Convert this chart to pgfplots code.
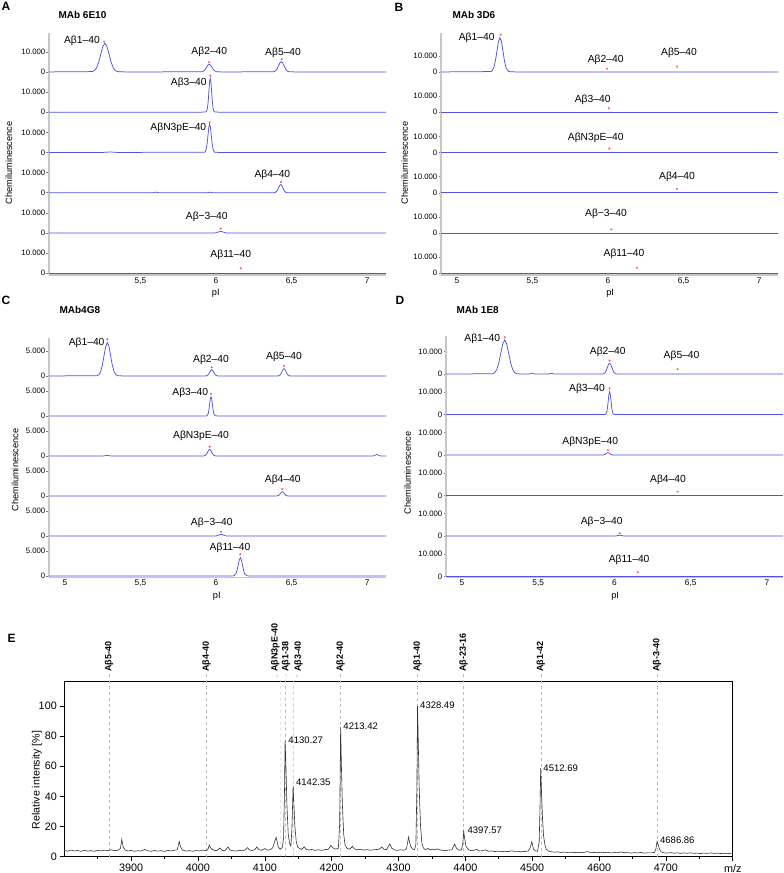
\documentclass[border=0pt]{standalone}
\usepackage{fontspec}
\setmainfont{Liberation Sans}
\usepackage{pgfplots}
\pgfplotsset{compat=1.18}
\definecolor{traceblue}{RGB}{80,80,235}
\definecolor{markred}{RGB}{255,95,95}
\definecolor{axgray}{RGB}{200,200,200}
\pgfplotsset{
  cie/.style={
    anchor=south west, scale only axis, clip=false,
    scaled y ticks=false, scaled x ticks=false,
    axis x line*=bottom, axis y line*=left,
    axis line style={draw=axgray, line width=1.4pt, -},
    tick align=outside, major tick length=2.5pt,
    ytick style={draw=gray, line width=0.5pt},
    xtick style={draw=none},
    yticklabel style={font=\fontsize{7.8}{9}\selectfont, inner sep=1pt},
    xticklabel style={font=\fontsize{8.3}{9}\selectfont, inner sep=1pt, yshift=1pt},
    label style={font=\fontsize{9.2}{10}\selectfont},
    xlabel={pI}, ylabel={Chemiluminescence},
  },
  trace/.style={draw=traceblue, line width=0.75pt, mark=none},
  pmark/.style={color=markred, only marks, mark=*, mark size=0.85pt, mark options={draw=markred, fill=markred}},
}
\tikzset{
  lab/.style={font=\fontsize{10.3}{12}\selectfont, inner sep=0pt},
  spl/.style={rotate=90, anchor=west, inner sep=0.5pt, font=\bfseries\fontsize{9}{10}\selectfont},
  pkl/.style={anchor=west, inner sep=0pt, font=\fontsize{9.5}{11}\selectfont},
}
\begin{document}
\begin{tikzpicture}
\useasboundingbox (0,0) rectangle (784pt,873pt);
% panel letters and titles
\node[font=\bfseries\fontsize{12}{14}\selectfont] at (6pt,867pt) {A};
\node[anchor=west, font=\bfseries\fontsize{10}{12}\selectfont] at (55pt,858pt) {MAb 6E10};
\node[font=\bfseries\fontsize{12}{14}\selectfont] at (399pt,866pt) {B};
\node[anchor=west, font=\bfseries\fontsize{10}{12}\selectfont] at (449pt,858pt) {MAb 3D6};
\node[font=\bfseries\fontsize{12}{14}\selectfont] at (6pt,573pt) {C};
\node[anchor=west, font=\bfseries\fontsize{10}{12}\selectfont] at (56pt,563pt) {MAb4G8};
\node[font=\bfseries\fontsize{12}{14}\selectfont] at (400pt,573pt) {D};
\node[anchor=west, font=\bfseries\fontsize{10}{12}\selectfont] at (453pt,563pt) {MAb 1E8};
\node[font=\bfseries\fontsize{12}{14}\selectfont] at (11.7pt,235pt) {E};

% ---------------- Panel A ----------------
\begin{axis}[cie, at={(49pt,598pt)}, width=337pt, height=242pt,
  xmin=4.895, xmax=7.125, ymin=-850, ymax=119330,
  ytick={0,10000,20000,30000,40000,50000,60000,70000,80000,90000,100000,110000},
  yticklabels={0,10.000,0,10.000,0,10.000,0,10.000,0,10.000,0,10.000},
  xtick={5.5,6,6.5,7}, xticklabels={{5,5},6,{6,5},7},
  ylabel style={at={(axis description cs:-0.119,0.463)}, anchor=center},
  xlabel style={at={(axis description cs:0.495,-0.075)}, anchor=center}]
\addplot[trace] coordinates {(4.895,100000) (5.181,100158) (5.195,100626) (5.209,101928) (5.223,104627) (5.237,108643) (5.251,112576) (5.265,114250) (5.279,112576) (5.293,108643) (5.307,104627) (5.321,101928) (5.335,100626) (5.349,100158) (5.40,100000)
(5.901,100042) (5.910,100167) (5.919,100514) (5.928,101234) (5.937,102305) (5.946,103354) (5.955,103800) (5.964,103354) (5.973,102305) (5.982,101234) (5.991,100514) (6.000,100167) (6.009,100042) (6.05,100000)
(6.378,100057) (6.387,100224) (6.396,100690) (6.405,101656) (6.414,103093) (6.423,104501) (6.432,105100) (6.441,104501) (6.450,103093) (6.459,101656) (6.468,100690) (6.477,100224) (6.486,100057) (6.53,100000) (7.125,100000)};
\addplot[trace] coordinates {(4.895,80000) (5.90,80000) (5.935,80188) (5.9395,80742) (5.944,82287) (5.9485,85487) (5.953,90250) (5.9575,94914) (5.962,96900) (5.9665,94914) (5.971,90250) (5.9755,85487) (5.980,82287) (5.9845,80742) (5.989,80188) (6.02,80000) (7.125,80000)};
\addplot[trace] coordinates {(4.895,60000) (5.25,60000) (5.30,60250) (5.35,60000) (5.925,60155) (5.9305,60615) (5.936,61894) (5.9415,64546) (5.947,68491) (5.9525,72355) (5.958,74000) (5.9635,72355) (5.969,68491) (5.9745,64546) (5.980,61894) (5.9855,60615) (5.991,60155) (6.02,60000) (7.125,60000)};
\addplot[trace] coordinates {(4.895,40000) (5.58,40000) (5.60,40300) (5.62,40000) (5.94,40000) (5.96,40250) (5.98,40000) (6.386,40046) (6.393,40180) (6.400,40555) (6.407,41331) (6.414,42487) (6.421,43618) (6.428,44100) (6.435,43618) (6.442,42487) (6.449,41331) (6.456,40555) (6.463,40180) (6.470,40046) (6.50,40000) (7.125,40000)};
\addplot[trace] coordinates {(4.895,20000) (5.986,20000) (6.001,20115) (6.016,20516) (6.031,20850) (6.046,20516) (6.061,20115) (6.076,20000) (7.125,20000)};
\addplot[trace] coordinates {(4.895,0) (7.125,0)};
\addplot[pmark] coordinates {(5.26,115050) (5.954,104800) (6.435,106300) (5.962,98200) (5.958,74900) (6.43,45300) (6.031,22200) (6.164,2500)};
\node[lab] at (axis cs:5.113,115400) {Aβ1–40};
\node[lab] at (axis cs:5.956,110100) {Aβ2–40};
\node[lab] at (axis cs:6.444,109300) {Aβ5–40};
\node[lab] at (axis cs:5.82,94400) {Aβ3–40};
\node[lab] at (axis cs:5.751,72200) {AβN3pE–40};
\node[lab] at (axis cs:6.373,48900) {Aβ4–40};
\node[lab] at (axis cs:5.939,27900) {Aβ−3–40};
\node[lab] at (axis cs:6.098,9100) {Aβ11–40};
\end{axis}

% ---------------- Panel B ----------------
\begin{axis}[cie, at={(441pt,598pt)}, width=337pt, height=242pt,
  xmin=4.895, xmax=7.125, ymin=-1050, ymax=149180,
  ytick={0,10000,25000,35000,50000,60000,75000,85000,100000,110000,125000,135000},
  yticklabels={0,10.000,0,10.000,0,10.000,0,10.000,0,10.000,0,10.000},
  xtick={5,5.5,6,6.5,7}, xticklabels={5,{5,5},6,{6,5},7},
  ylabel style={at={(axis description cs:-0.108,0.463)}, anchor=center},
  xlabel style={at={(axis description cs:0.502,-0.076)}, anchor=center}]
\addplot[trace] coordinates {(4.895,125000) (5.225,125236) (5.235,125935) (5.245,127882) (5.255,131916) (5.265,137919) (5.275,143797) (5.285,146300) (5.295,143797) (5.305,137919) (5.315,131916) (5.325,127882) (5.335,125935) (5.345,125236) (5.39,125000) (7.125,125000)};
\addplot[trace] coordinates {(4.895,100000) (7.125,100000)};
\addplot[trace] coordinates {(4.895,75000) (7.125,75000)};
\addplot[trace] coordinates {(4.895,50000) (7.125,50000)};
\addplot[trace] coordinates {(4.895,25000) (7.125,25000)};
\addplot[trace] coordinates {(4.895,0) (7.125,0)};
\addplot[pmark] coordinates {(5.29,148150) (5.994,127050) (6.457,128300) (6.005,102400) (6.009,77350) (6.457,52350) (6.022,27300) (6.192,3500)};
\node[lab] at (axis cs:5.131,146300) {Aβ1–40};
\node[lab] at (axis cs:5.985,132450) {Aβ2–40};
\node[lab] at (axis cs:6.47,137000) {Aβ5–40};
\node[lab] at (axis cs:5.899,107600) {Aβ3–40};
\node[lab] at (axis cs:5.919,83800) {AβN3pE–40};
\node[lab] at (axis cs:6.457,60000) {Aβ4–40};
\node[lab] at (axis cs:5.987,37200) {Aβ−3–40};
\node[lab] at (axis cs:6.106,12000) {Aβ11–40};
\end{axis}

% ---------------- Panel C ----------------
\begin{axis}[cie, at={(49pt,295.7pt)}, width=337pt, height=239pt,
  xmin=4.895, xmax=7.125, ymin=-260, ymax=47540,
  ytick={0,5000,8000,13000,16000,21000,24000,29000,32000,37000,40000,45000},
  yticklabels={0,5.000,0,5.000,0,5.000,0,5.000,0,5.000,0,5.000},
  xtick={5,5.5,6,6.5,7}, xticklabels={5,{5,5},6,{6,5},7},
  ylabel style={at={(axis description cs:-0.101,0.449)}, anchor=center},
  xlabel style={at={(axis description cs:0.498,-0.078)}, anchor=center}]
\addplot[trace] coordinates {(4.895,40000) (5.215,40074) (5.226,40292) (5.237,40901) (5.248,42162) (5.259,44039) (5.270,45877) (5.281,46660) (5.292,45877) (5.303,44039) (5.314,42162) (5.325,40901) (5.336,40292) (5.347,40074) (5.39,40000)
(5.933,40014) (5.946,40170) (5.9525,40409) (5.959,40764) (5.9655,41112) (5.972,41260) (5.9785,41112) (5.985,40764) (5.9915,40409) (5.998,40170) (6.011,40014) (6.04,40000)
(6.411,40016) (6.424,40198) (6.4305,40474) (6.437,40886) (6.4435,41288) (6.45,41460) (6.4565,41288) (6.463,40886) (6.4695,40474) (6.476,40198) (6.489,40016) (6.52,40000) (7.125,40000)};
\addplot[trace] coordinates {(4.895,32000) (5.93,32000) (5.94,32043) (5.949,32522) (5.9535,33253) (5.958,34341) (5.9625,35406) (5.967,35860) (5.9715,35406) (5.976,34341) (5.9805,33253) (5.985,32522) (5.994,32043) (6.02,32000) (7.125,32000)};
\addplot[trace] coordinates {(4.895,24000) (5.25,24000) (5.28,24100) (5.31,24000) (5.919,24015) (5.932,24181) (5.9385,24435) (5.945,24813) (5.9515,25183) (5.958,25340) (5.9645,25183) (5.971,24813) (5.9775,24435) (5.984,24181) (5.997,24015) (6.03,24000) (7.04,24000) (7.054,24180) (7.064,24300) (7.074,24180) (7.09,24000) (7.125,24000)};
\addplot[trace] coordinates {(4.895,16000) (6.403,16010) (6.415,16116) (6.421,16279) (6.427,16522) (6.433,16759) (6.439,16860) (6.445,16759) (6.451,16522) (6.457,16279) (6.463,16116) (6.475,16010) (6.50,16000) (7.125,16000)};
\addplot[trace] coordinates {(4.895,8000) (5.991,8000) (6.005,8046) (6.019,8206) (6.033,8340) (6.047,8206) (6.061,8046) (6.075,8000) (7.125,8000)};
\addplot[trace] coordinates {(4.895,0) (6.11,0) (6.119,41) (6.133,495) (6.14,1188) (6.147,2220) (6.154,3230) (6.161,3660) (6.168,3230) (6.175,2220) (6.182,1188) (6.189,495) (6.203,41) (6.23,0) (7.125,0)};
\addplot[pmark] coordinates {(5.281,47340) (5.972,41740) (6.45,42000) (5.967,36460) (5.958,25860) (6.439,17400) (6.033,8860) (6.161,4340)};
\node[lab] at (axis cs:5.144,46540) {Aβ1–40};
\node[lab] at (axis cs:5.967,43200) {Aβ2–40};
\node[lab] at (axis cs:6.45,43860) {Aβ5–40};
\node[lab] at (axis cs:5.83,36660) {Aβ3–40};
\node[lab] at (axis cs:5.901,28060) {AβN3pE–40};
\node[lab] at (axis cs:6.442,19200) {Aβ4–40};
\node[lab] at (axis cs:5.972,10540) {Aβ−3–40};
\node[lab] at (axis cs:6.093,5540) {Aβ11–40};
\end{axis}

% ---------------- Panel D ----------------
\begin{axis}[cie, at={(446pt,295.7pt)}, width=337pt, height=241.3pt,
  xmin=4.895, xmax=7.105, ymin=-300, ymax=106930,
  ytick={0,10000,18000,28000,36000,46000,54000,64000,72000,82000,90000,100000},
  yticklabels={0,10.000,0,10.000,0,10.000,0,10.000,0,10.000,0,10.000},
  xtick={5,5.5,6,6.5,7}, xticklabels={5,{5,5},6,{6,5},7},
  ylabel style={at={(axis description cs:-0.114,0.432)}, anchor=center},
  xlabel style={at={(axis description cs:0.502,-0.078)}, anchor=center}]
\addplot[trace] coordinates {(4.895,90000) (5.202,90169) (5.215,90667) (5.228,92057) (5.241,94935) (5.254,99219) (5.267,103414) (5.28,105200) (5.293,103414) (5.306,99219) (5.319,94935) (5.332,92057) (5.345,90667) (5.358,90169) (5.40,90000) (5.44,90000) (5.459,90400) (5.478,90000) (5.565,90000) (5.586,90350) (5.607,90000)
(5.923,90054) (5.9305,90212) (5.938,90655) (5.9455,91572) (5.953,92936) (5.9605,94271) (5.968,94840) (5.9755,94271) (5.983,92936) (5.9905,91572) (5.998,90655) (6.0055,90212) (6.013,90054) (6.05,90000) (7.105,90000)};
\addplot[trace] coordinates {(4.895,72000) (5.93,72000) (5.941,72113) (5.9455,72448) (5.950,73380) (5.9545,75312) (5.959,78186) (5.9635,81002) (5.968,82200) (5.9725,81002) (5.977,78186) (5.9815,75312) (5.986,73380) (5.9905,72448) (5.995,72113) (6.02,72000) (7.105,72000)};
\addplot[trace] coordinates {(4.895,54000) (5.921,54012) (5.933,54149) (5.939,54357) (5.945,54667) (5.951,54971) (5.957,55100) (5.963,54971) (5.969,54667) (5.975,54357) (5.981,54149) (5.993,54012) (6.02,54000) (7.105,54000)};
\addplot[trace] coordinates {(4.895,36000) (7.105,36000)};
\addplot[trace] coordinates {(4.895,18000) (6.0,18000) (6.022,18243) (6.034,18400) (6.046,18243) (6.068,18000) (7.105,18000)};
\addplot[trace] coordinates {(4.895,0) (7.105,0)};
\addplot[pmark] coordinates {(5.28,106400) (5.968,96000) (6.414,92180) (5.968,83700) (5.957,56180) (6.414,37780) (6.034,19290) (6.152,1950)};
\node[lab] at (axis cs:5.133,105640) {Aβ1–40};
\node[lab] at (axis cs:5.956,99730) {Aβ2–40};
\node[lab] at (axis cs:6.44,98220) {Aβ5–40};
\node[lab] at (axis cs:5.82,83420) {Aβ3–40};
\node[lab] at (axis cs:5.841,60000) {AβN3pE–40};
\node[lab] at (axis cs:6.351,42980) {Aβ4–40};
\node[lab] at (axis cs:5.916,24180) {Aβ−3–40};
\node[lab] at (axis cs:6.096,7420) {Aβ11–40};
\end{axis}

% ---------------- Panel E ----------------
\begin{axis}[anchor=south west, at={(64.3pt,16.3pt)}, scale only axis, clip=false,
  width=668.4pt, height=175pt,
  xmin=3800, xmax=4800, ymin=0, ymax=116.1,
  axis line style={black, line width=0.8pt},
  tick align=outside, xtick pos=left, ytick pos=left,
  major tick length=4pt, minor tick length=2.5pt,
  tick style={black, line width=0.6pt},
  xtick={3900,4000,4100,4200,4300,4400,4500,4600,4700,4800},
  xticklabels={3900,4000,4100,4200,4300,4400,4500,4600,4700,m/z},
  minor xtick={3850,3950,4050,4150,4250,4350,4450,4550,4650,4750},
  ytick={0,20,40,60,80,100}, yticklabels={0,20,40,60,80,100},
  ticklabel style={font=\fontsize{10.8}{12}\selectfont},
  ylabel={Relative intensity [\%]},
  ylabel style={font=\fontsize{10.6}{12}\selectfont, at={(axis description cs:-0.041,0.438)}, anchor=center}]
% marker lines
\addplot[gray!55, dashed, line width=0.6pt] coordinates {(3867,0) (3867,122)};
\addplot[gray!55, dashed, line width=0.6pt] coordinates {(4013,0) (4013,122)};
\addplot[gray!55, dashed, line width=0.6pt] coordinates {(4124,0) (4124,116.1) (4115.5,122)};
\addplot[gray!55, dashed, line width=0.6pt] coordinates {(4131,0) (4131,116.1) (4131.7,122)};
\addplot[gray!55, dashed, line width=0.6pt] coordinates {(4142.5,0) (4142.5,116.1) (4150.5,122)};
\addplot[gray!55, dashed, line width=0.6pt] coordinates {(4213.2,0) (4213.2,122)};
\addplot[gray!55, dashed, line width=0.6pt] coordinates {(4328.4,0) (4328.4,122)};
\addplot[gray!55, dashed, line width=0.6pt] coordinates {(4397.3,0) (4397.3,122)};
\addplot[gray!55, dashed, line width=0.6pt] coordinates {(4513,0) (4513,122)};
\addplot[gray!55, dashed, line width=0.6pt] coordinates {(4686.8,0) (4686.8,122)};
% spectrum
\addplot[black!80, line width=0.6pt, mark=none] coordinates {
(3800,4.2) (3805,3.6) (3810,4.4) (3815,3.8) (3820,4.1) (3825,3.5) (3830,4.3) (3835,3.7) (3840,4.0) (3845,3.6)
(3850,4.2) (3855,3.8) (3860,4.4) (3865,3.9) (3870,4.6) (3875,4.0) (3880,4.2) (3884,5.5) (3886,11.5) (3888,6.5)
(3891,4.5) (3895,3.8) (3900,4.1) (3905,3.6) (3910,4.0) (3915,3.7) (3920,4.8) (3925,3.9) (3930,3.6) (3935,4.1)
(3940,3.7) (3945,4.0) (3950,3.5) (3955,4.2) (3960,3.8) (3965,4.3) (3969,4.6) (3972,10.0) (3974,6.5) (3977,4.4)
(3982,3.7) (3987,4.0) (3992,3.6) (3997,4.1) (4002,3.8) (4007,4.4) (4012,4.0) (4015,5.0) (4017,7.8) (4020,5.2)
(4024,4.3) (4028,4.0) (4033,5.8) (4036,4.2) (4040,3.9) (4045,6.4) (4048,4.4) (4052,4.0) (4057,3.7) (4062,4.3)
(4066,3.9) (4070,4.4) (4074,6.0) (4077,4.5) (4081,4.1) (4085,4.8) (4088,6.4) (4091,4.7) (4095,4.2) (4100,5.4)
(4104,4.4) (4108,4.6) (4112,6.0) (4115,10.5) (4117,12.8) (4120,6.5) (4123,5.0) (4126,6.0) (4128,12) (4129.5,45)
(4130.3,77) (4131.5,62) (4133,35) (4135,15) (4137,9) (4139,7) (4140.5,18) (4142.35,47) (4143.5,35) (4145,20)
(4147,10) (4149,6.5) (4152,5.5) (4155,4.8) (4159,6.5) (4162,4.9) (4166,4.4) (4170,4.8) (4175,4.2) (4180,4.6)
(4185,4.2) (4190,4.7) (4195,4.9) (4199,7.5) (4202,5.8) (4206,5.0) (4210,5.6) (4212,22) (4213.4,86) (4214.5,62)
(4216,35) (4218,15) (4220,8) (4223,5.5) (4227,5.0) (4231,6.8) (4234,5.2) (4238,4.6) (4243,4.9) (4248,4.4)
(4253,4.7) (4258,4.3) (4263,4.6) (4268,4.8) (4272,5.2) (4275,6.4) (4278,5.0) (4282,4.6) (4287,8.5) (4290,5.6)
(4294,4.5) (4298,4.2) (4303,4.6) (4308,4.3) (4312,5.2) (4315,13) (4318,7) (4321,5.0) (4324,4.8) (4326,8)
(4327.5,45) (4328.5,100) (4329.5,78) (4331,45) (4333,20) (4335,9) (4337,6) (4340,4.6) (4344,5.5) (4347,4.5)
(4350,5.0) (4354,4.6) (4358,5.2) (4362,4.5) (4366,4.2) (4370,4.0) (4375,4.4) (4380,4.6) (4384,8.4) (4387,5.4)
(4391,4.3) (4394,4.6) (4396,8) (4397.6,16.6) (4399,12) (4401,7) (4404,5.0) (4408,4.0) (4413,4.3) (4417,4.8)
(4421,3.8) (4426,4.0) (4430,4.6) (4434,3.6) (4439,3.8) (4444,3.4) (4449,3.7) (4454,3.3) (4459,3.6) (4464,3.4)
(4469,3.9) (4474,3.5) (4479,3.6) (4484,3.3) (4489,3.5) (4494,3.8) (4497,6.0) (4499.5,10) (4502,5.0) (4505,3.8)
(4508,3.6) (4510.5,10) (4511.8,35) (4512.7,58.7) (4514,42) (4515.5,25) (4517,14) (4519,8) (4521,5) (4524,3.8)
(4528,3.3) (4533,3.0) (4538,3.2) (4543,2.8) (4548,3.1) (4553,2.8) (4558,3.0) (4563,2.7) (4568,2.9) (4573,2.6)
(4578,2.9) (4583,3.4) (4588,2.7) (4593,2.8) (4598,2.6) (4603,3.0) (4608,2.7) (4613,2.9) (4618,2.5) (4623,2.8)
(4628,2.6) (4633,3.2) (4638,2.6) (4643,2.7) (4648,2.4) (4653,2.7) (4658,2.5) (4663,2.8) (4668,2.4) (4673,2.6)
(4678,2.5) (4683,2.9) (4685,5.0) (4686.9,10.2) (4688.5,8) (4690.5,5) (4693,3.2) (4697,2.6) (4702,2.4) (4707,2.7)
(4712,2.3) (4717,2.6) (4722,2.2) (4727,2.5) (4732,2.3) (4737,2.6) (4742,2.2) (4747,2.4) (4752,2.1) (4757,2.4)
(4762,2.2) (4767,2.5) (4772,2.2) (4777,2.4) (4782,2.1) (4787,2.3) (4792,2.0) (4797,2.3) (4800,2.1)};
% peak labels
\node[pkl] at (axis cs:4135.1,77) {4130.27};
\node[pkl] at (axis cs:4146.6,49.1) {4142.35};
\node[pkl] at (axis cs:4217.4,86.3) {4213.42};
\node[pkl] at (axis cs:4332.2,100.7) {4328.49};
\node[pkl] at (axis cs:4403,17.3) {4397.57};
\node[pkl] at (axis cs:4516.6,59) {4512.69};
\node[pkl] at (axis cs:4691.2,11.1) {4686.86};
% species labels
\node[spl] at (axis cs:3867,122.3) {Aβ5-40};
\node[spl] at (axis cs:4013,122.3) {Aβ4-40};
\node[spl] at (axis cs:4115.5,122.3) {AβN3pE-40};
\node[spl] at (axis cs:4131.7,122.3) {Aβ1-38};
\node[spl] at (axis cs:4150.5,122.3) {Aβ3-40};
\node[spl] at (axis cs:4213.2,122.3) {Aβ2-40};
\node[spl] at (axis cs:4328.4,122.3) {Aβ1-40};
\node[spl] at (axis cs:4397.3,122.3) {Aβ-23-16};
\node[spl] at (axis cs:4513,122.3) {Aβ1-42};
\node[spl] at (axis cs:4686.8,122.3) {Aβ-3-40};
\end{axis}
\end{tikzpicture}
\end{document}
